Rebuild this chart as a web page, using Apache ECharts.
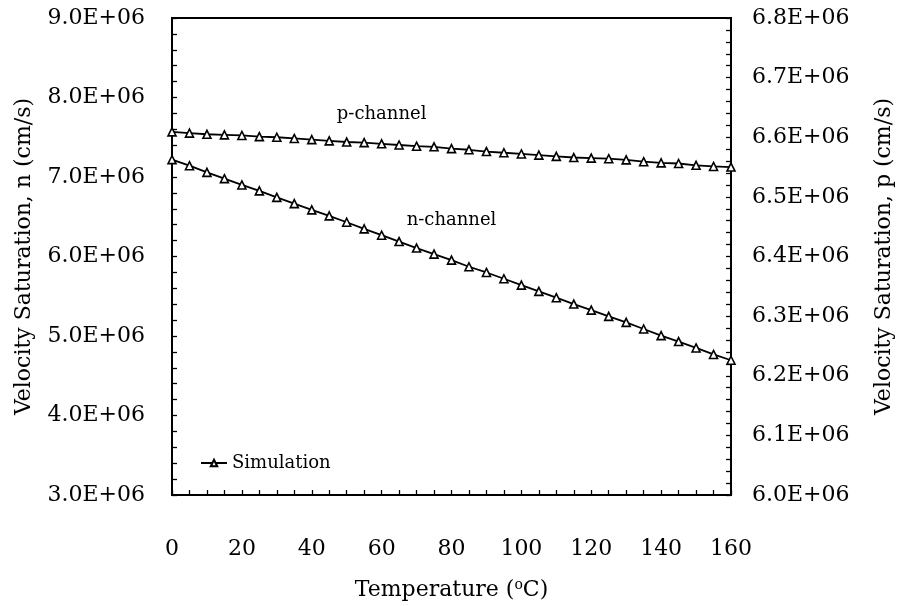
<!DOCTYPE html>
<html>
<head>
<meta charset="utf-8">
<script src="https://cdn.jsdelivr.net/npm/echarts@6/dist/echarts.min.js"></script>
<style>
  html, body { margin: 0; padding: 0; background: #fff; }
  #chart { width: 900px; height: 606px; }
</style>
</head>
<body>
<div id="chart"></div>
<script>
// Temperature sweep, °C
const temperatures = [0, 5, 10, 15, 20, 25, 30, 35, 40, 45, 50, 55, 60, 65, 70, 75, 80,
  85, 90, 95, 100, 105, 110, 115, 120, 125, 130, 135, 140, 145, 150, 155, 160];

// n-channel saturation velocity (cm/s), left axis
const nChannel = [7.218e6, 7.142e6, 7.058e6, 6.979e6, 6.900e6, 6.825e6, 6.744e6, 6.665e6,
  6.586e6, 6.511e6, 6.431e6, 6.348e6, 6.268e6, 6.188e6, 6.106e6, 6.030e6, 5.954e6,
  5.871e6, 5.799e6, 5.720e6, 5.640e6, 5.561e6, 5.482e6, 5.402e6, 5.326e6, 5.247e6,
  5.172e6, 5.088e6, 5.005e6, 4.930e6, 4.850e6, 4.768e6, 4.695e6];

// p-channel saturation velocity (cm/s), right axis
const pChannel = [6.609e6, 6.607e6, 6.605e6, 6.604e6, 6.603e6, 6.601e6, 6.600e6, 6.598e6,
  6.596e6, 6.594e6, 6.592e6, 6.591e6, 6.589e6, 6.587e6, 6.585e6, 6.584e6, 6.581e6,
  6.579e6, 6.576e6, 6.574e6, 6.572e6, 6.570e6, 6.568e6, 6.566e6, 6.565e6, 6.564e6,
  6.562e6, 6.559e6, 6.557e6, 6.556e6, 6.553e6, 6.551e6, 6.550e6];

// curve annotations: [temperature, velocity]
const pLabelAt = [60, 6.638e6];
const nLabelAt = [80, 6.452e6];

const FONT = 'DejaVu Serif';
const sci = v => (v / 1e6).toFixed(1) + 'E+06';

const tick = { show: true, inside: true, length: 5, lineStyle: { color: '#000', width: 1.3 } };
const minor = n => ({ show: true, splitNumber: n, length: 5, lineStyle: { color: '#000', width: 1.3 } });
const axisLine = { show: true, lineStyle: { color: '#000', width: 2 } };

const seriesStyle = {
  type: 'line',
  name: 'Simulation',
  symbol: 'triangle',
  symbolSize: 8,
  showAllSymbol: true,
  lineStyle: { color: '#000', width: 1.8 },
  itemStyle: { color: '#fff', borderColor: '#000', borderWidth: 1.6 },
  emphasis: { disabled: true },
  animation: false
};

const chart = echarts.init(document.getElementById('chart'), null, { renderer: 'canvas' });
chart.setOption({
  backgroundColor: '#fff',
  animation: false,
  grid: {
    left: 172, right: 169, top: 18, bottom: 111,
    outerBoundsMode: 'none',
    show: true, borderColor: '#000', borderWidth: 2, backgroundColor: 'transparent'
  },
  legend: {
    data: ['Simulation'],
    left: 195, top: 449,
    itemWidth: 26, itemHeight: 8, itemGap: 6,
    textStyle: { color: '#000', fontFamily: FONT, fontSize: 18 },
    selectedMode: false
  },
  xAxis: {
    type: 'value',
    min: 0, max: 160, interval: 20,
    name: 'Temperature ({sup|o}C)',
    nameLocation: 'middle', nameGap: 83, nameMoveOverlap: false,
    nameTextStyle: {
      color: '#000', fontFamily: FONT, fontSize: 22,
      rich: { sup: { fontFamily: FONT, fontSize: 14, verticalAlign: 'bottom', padding: [0, 0, 11, 0], color: '#000' } }
    },
    axisLine: axisLine,
    axisTick: tick,
    minorTick: minor(4),
    splitLine: { show: false },
    axisLabel: { margin: 43, color: '#000', fontFamily: FONT, fontSize: 22 }
  },
  yAxis: [
    {
      type: 'value', position: 'left',
      min: 3e6, max: 9e6, interval: 1e6,
      name: 'Velocity Saturation, n (cm/s)',
      nameLocation: 'middle', nameGap: 137, nameRotate: 90, nameMoveOverlap: false,
      nameTextStyle: { color: '#000', fontFamily: FONT, fontSize: 22 },
      axisLine: axisLine,
      axisTick: tick,
      minorTick: minor(5),
      splitLine: { show: false },
      axisLabel: { margin: 27, formatter: sci, color: '#000', fontFamily: FONT, fontSize: 22 }
    },
    {
      type: 'value', position: 'right',
      min: 6.0e6, max: 6.8e6, interval: 1e5,
      name: 'Velocity Saturation, p (cm/s)',
      nameLocation: 'middle', nameGap: 142, nameRotate: 90, nameMoveOverlap: false,
      nameTextStyle: { color: '#000', fontFamily: FONT, fontSize: 22 },
      axisLine: axisLine,
      axisTick: tick,
      minorTick: minor(5),
      splitLine: { show: false },
      axisLabel: { margin: 21, formatter: sci, color: '#000', fontFamily: FONT, fontSize: 22 }
    }
  ],
  series: [
    Object.assign({}, seriesStyle, {
      yAxisIndex: 0,
      data: temperatures.map((t, i) => [t, nChannel[i]]),
      markPoint: {
        symbol: 'circle', symbolSize: 0, silent: true,
        label: { show: true, formatter: 'n-channel', color: '#000', fontFamily: FONT, fontSize: 18, position: 'inside' },
        data: [{ coord: nLabelAt }]
      }
    }),
    Object.assign({}, seriesStyle, {
      yAxisIndex: 1,
      data: temperatures.map((t, i) => [t, pChannel[i]]),
      markPoint: {
        symbol: 'circle', symbolSize: 0, silent: true,
        label: { show: true, formatter: 'p-channel', color: '#000', fontFamily: FONT, fontSize: 18, position: 'inside' },
        data: [{ coord: pLabelAt }]
      }
    })
  ]
});
</script>
</body>
</html>
